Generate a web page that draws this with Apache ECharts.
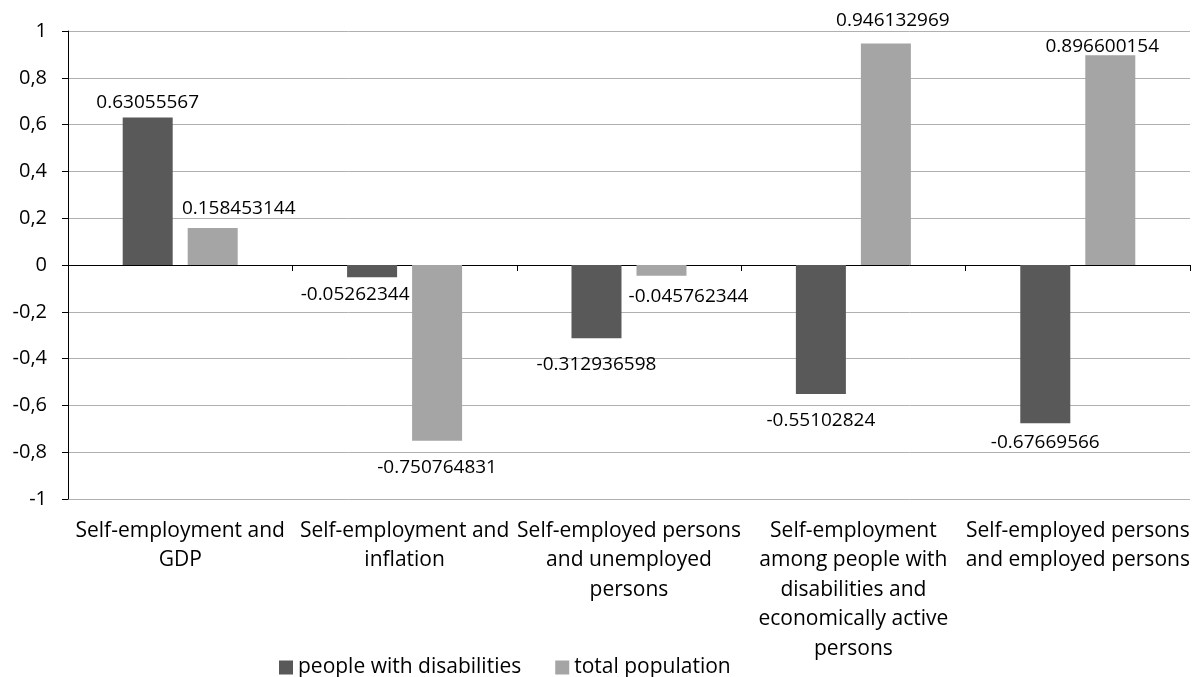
<!DOCTYPE html>
<html>
<head>
<meta charset="utf-8">
<title>Self-employment correlations</title>
<script src="https://cdn.jsdelivr.net/npm/echarts@6/dist/echarts.min.js"></script>
<style>
  html, body { margin: 0; padding: 0; background: #ffffff; }
  #chart { width: 1192px; height: 677px; }
</style>
</head>
<body>
<div id="chart"></div>
<script>
// Category names (line breaks as printed under the axis)
const categories = [
  'Self-employment and\nGDP',
  'Self-employment and\ninflation',
  'Self-employed persons\nand unemployed\npersons',
  'Self-employment\namong people with\ndisabilities and\neconomically active\npersons',
  'Self-employed persons\nand employed persons'
];

const seriesNames = ['people with disabilities', 'total population'];

// Correlation coefficients
const disabledValues = [0.63055567, -0.05262344, -0.312936598, -0.55102824, -0.67669566];
const totalValues = [0.158453144, -0.750764831, -0.045762344, 0.946132969, 0.896600154];

// Y axis ticks
const yMin = -1;
const yMax = 1;
const yStep = 0.2;

// Hand-placed nudges for value labels that would otherwise collide
const disabledLabelShift = [[0, 0], [-17, 3], [0, 12], [0, 12], [0, 5]];
const totalLabelShift = [[26, -5], [0, 12], [27, 6], [7, -9], [-8, 6]];

const FONT = '"Open Sans", "Noto Sans", sans-serif';

function buildData(values, shifts) {
  return values.map((v, i) => ({
    value: v,
    label: {
      position: v >= 0 ? 'top' : 'bottom',
      offset: shifts[i]
    }
  }));
}

const valueLabel = {
  show: true,
  distance: 5,
  color: '#000',
  fontFamily: FONT,
  fontSize: 19,
  formatter: p => String(p.value)
};

const chart = echarts.init(document.getElementById('chart'), null, { renderer: 'canvas' });

chart.setOption({
  animation: false,
  backgroundColor: '#ffffff',
  textStyle: { fontFamily: FONT, color: '#000' },
  grid: { left: 68, top: 31, width: 1131, height: 468, containLabel: false },
  legend: {
    data: seriesNames,
    left: 279,
    top: 657,
    padding: 0,
    icon: 'rect',
    itemWidth: 14,
    itemHeight: 14,
    itemGap: 34,
    textStyle: { fontFamily: FONT, fontSize: 21, color: '#000' }
  },
  xAxis: [
    {
      // category labels along the bottom edge
      type: 'category',
      data: categories,
      position: 'bottom',
      axisLine: { show: false, onZero: false },
      axisTick: { show: false },
      splitLine: { show: false },
      axisLabel: {
        interval: 0,
        margin: 17,
        fontFamily: FONT,
        fontSize: 21,
        lineHeight: 29.5,
        color: '#000',
        align: 'center'
      }
    },
    {
      // baseline drawn through zero with tick marks between categories
      type: 'category',
      data: categories,
      position: 'bottom',
      axisLine: { show: true, onZero: true, lineStyle: { color: '#000', width: 1 } },
      axisTick: { show: true, length: 6, lineStyle: { color: '#000', width: 1 } },
      axisLabel: { show: false },
      splitLine: { show: false }
    }
  ],
  yAxis: {
    type: 'value',
    min: yMin,
    max: yMax,
    interval: yStep,
    axisLine: { show: true, lineStyle: { color: '#000', width: 1 } },
    axisTick: { show: true, length: 6, lineStyle: { color: '#000', width: 1 } },
    splitLine: { show: true, lineStyle: { color: '#b0b0b0', width: 1 } },
    axisLabel: {
      margin: 21,
      fontFamily: FONT,
      fontSize: 20,
      color: '#000',
      formatter: v => String(Math.round(v * 10) / 10).replace('.', ',')
    }
  },
  series: [
    {
      name: seriesNames[0],
      type: 'bar',
      xAxisIndex: 0,
      barWidth: 50,
      barGap: '30%',
      itemStyle: { color: '#595959' },
      label: valueLabel,
      data: buildData(disabledValues, disabledLabelShift)
    },
    {
      name: seriesNames[1],
      type: 'bar',
      xAxisIndex: 0,
      barWidth: 50,
      barGap: '30%',
      itemStyle: { color: '#a5a5a5' },
      label: valueLabel,
      data: buildData(totalValues, totalLabelShift)
    }
  ]
});
</script>
</body>
</html>
